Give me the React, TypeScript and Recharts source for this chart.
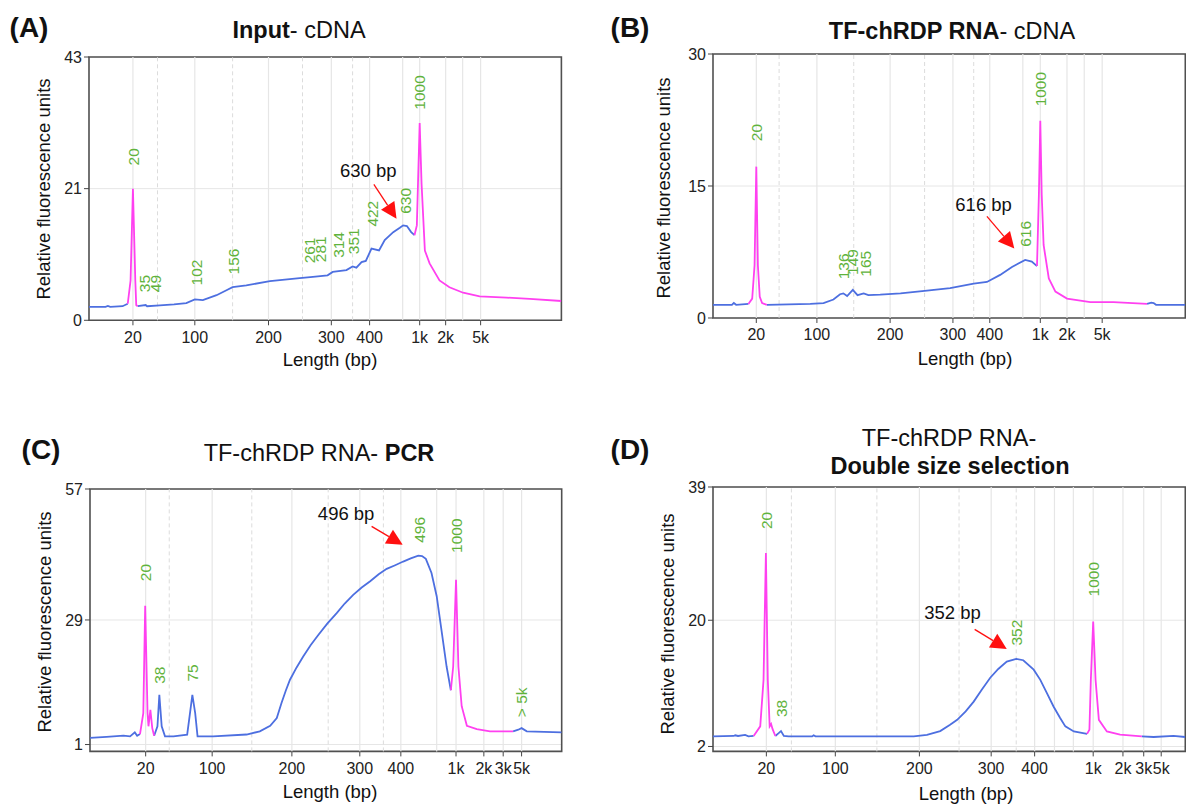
import React from "react";
import { ComposedChart, Line, Scatter, XAxis, YAxis, CartesianGrid, ReferenceLine, ReferenceArea } from "recharts";

const FONT = "'Liberation Sans', Arial, Helvetica, sans-serif";
const BLUE = "#4d6fe0";
const PINK = "#ff40f0";
const GREEN = "#5fb33c";

// x values are migration positions (0-100 across the plot); ticks carry the bp labels
const sizeLabelsAB = ["20", "100", "200", "300", "400", "1k", "2k", "5k"];
const sizeLabelsCD = ["20", "100", "200", "300", "400", "1k", "2k", "3k", "5k"];

// ---- (A) Input- cDNA
const ticksA = [9.3, 22.4, 38.0, 51.3, 59.4, 70.0, 75.5, 82.9];
const solidA = [66.4, 79.1];
const dashedA = [14.5, 30.4, 45.2, 55.8];
const yTicksA = [0, 21.5, 43];
const yLabelsA = ["0", "21", "43"];
const traceA: [number, number][] = [
  [0, 2.2], [3.5, 2.2], [4.0, 2.35], [4.5, 2.2], [7.1, 2.3], [8.2, 2.7], [8.8, 6.5], [9.3, 21.5], [9.8, 6.5],
  [10.0, 2.5], [10.3, 2.3], [12.0, 2.5], [12.3, 2.3], [15.0, 2.45], [18.0, 2.6], [20.6, 2.8], [22.4, 3.4],
  [24.1, 3.3], [27.0, 4.1], [29.1, 4.9], [30.4, 5.4], [33.3, 5.7], [38.3, 6.4], [44.6, 6.9], [47.4, 7.1],
  [50.5, 7.35], [51.6, 7.9], [54.5, 8.2], [55.8, 8.8], [56.6, 8.6], [57.7, 9.5], [58.6, 9.7], [59.8, 11.7],
  [61.4, 11.4], [62.6, 13.1], [64.4, 14.4], [65.8, 15.1], [66.5, 15.5], [67.3, 15.4], [68.2, 14.4],
  [68.9, 13.9], [69.4, 15.5], [70.0, 32.2], [70.4, 22.3], [71.1, 11.4], [72.1, 9.3], [74.2, 6.5],
  [76.3, 5.4], [79.2, 4.5], [82.7, 3.9], [88.4, 3.7], [93.3, 3.5], [100, 3.15],
];
const markerA: [number, number][] = [[8.2, 10.3], [68.9, 100]];
const peaksA = [
  { t: 9.3, v: 25.3, text: "20" }, { t: 11.8, v: 4.6, text: "35" }, { t: 14.1, v: 4.6, text: "49" },
  { t: 22.7, v: 5.7, text: "102" }, { t: 30.6, v: 7.5, text: "156" }, { t: 46.7, v: 9.3, text: "261" },
  { t: 49.0, v: 9.5, text: "281" }, { t: 52.7, v: 10.2, text: "314" }, { t: 55.9, v: 10.8, text: "351" },
  { t: 60.1, v: 15.3, text: "422" }, { t: 67.0, v: 17.4, text: "630" }, { t: 70.0, v: 34.4, text: "1000" },
];
const noteA = { text: "630 bp", t: 59.1, v: 24.5, from: [60.3, 22.2], to: [65.1, 16.6] };

// ---- (B) TF-chRDP RNA- cDNA
const ticksB = [9.17, 22.0, 37.5, 50.8, 58.6, 69.3, 74.95, 82.4];
const solidB = [65.6, 78.6];
const dashedB = [14.0, 29.8, 44.8, 55.2];
const yTicksB = [0, 15, 30];
const yLabelsB = ["0", "15", "30"];
const traceB: [number, number][] = [
  [0, 1.5], [4.0, 1.5], [4.4, 1.7], [4.9, 1.5], [7.5, 1.6], [8.3, 2.2], [8.8, 6.0], [9.17, 17.2], [9.5, 6.0],
  [9.9, 2.4], [10.4, 1.7], [11.4, 1.5], [20.6, 1.6], [23.4, 1.7], [25.5, 2.1], [26.9, 2.7], [27.6, 2.8],
  [28.4, 2.5], [29.6, 3.2], [30.6, 2.6], [31.9, 2.8], [32.9, 2.6], [35.4, 2.65], [39.7, 2.8], [45.3, 3.1],
  [50.2, 3.4], [55.2, 3.9], [58.0, 4.1], [60.8, 4.9], [63.3, 5.8], [66.1, 6.6], [67.5, 6.4], [68.6, 5.9],
  [69.0, 14.0], [69.3, 22.4], [69.6, 14.0], [70.0, 8.3], [71.1, 4.5], [72.5, 3.0], [74.95, 2.2],
  [79.9, 1.8], [84.8, 1.8], [91.9, 1.6], [92.8, 1.75], [93.3, 1.7], [93.8, 1.5], [100, 1.5],
];
const markerB: [number, number][] = [[7.5, 11.4], [68.6, 91.9]];
const peaksB = [
  { t: 9.17, v: 20.1, text: "20" }, { t: 27.6, v: 4.4, text: "136" }, { t: 29.6, v: 4.9, text: "149" },
  { t: 32.2, v: 4.7, text: "165" }, { t: 66.1, v: 8.1, text: "616" }, { t: 69.3, v: 24.05, text: "1000" },
];
const noteB = { text: "616 bp", t: 57.3, v: 12.95, from: [58.0, 11.55], to: [63.8, 7.9] };

// ---- (C) TF-chRDP RNA- PCR
const ticksC = [11.8, 25.9, 42.8, 57.2, 65.9, 77.6, 83.5, 87.6, 91.5];
const solidC = [73.5];
const dashedC = [16.8, 34.3, 50.5, 62.2];
const yTicksC = [1, 28.3, 57];
const yLabelsC = ["1", "29", "57"];
const traceC: [number, number][] = [
  [0, 2.44], [3.5, 2.66], [7.1, 2.94], [8.5, 2.8], [9.5, 3.66], [10.0, 2.94], [10.6, 3.3], [11.3, 7.9],
  [11.7, 31.4], [12.2, 7.9], [12.4, 5.0], [12.8, 8.6], [13.2, 4.6], [13.6, 2.94], [14.3, 5.0], [14.7, 11.9],
  [15.2, 5.0], [15.9, 2.8], [17.7, 2.8], [20.6, 3.16], [21.2, 7.9], [21.7, 11.9], [22.3, 7.9], [22.8, 2.8],
  [26.1, 2.8], [33.2, 3.2], [36.0, 3.9], [38.2, 5.1], [39.6, 6.8], [40.6, 10.1], [41.5, 12.8], [42.4, 15.2],
  [43.8, 17.9], [45.2, 20.3], [46.8, 22.8], [48.4, 25.0], [50.3, 27.5], [52.3, 29.8], [54.0, 31.9],
  [55.8, 33.8], [57.6, 35.4], [59.4, 36.8], [61.2, 38.3], [62.9, 39.5], [64.7, 40.3], [66.4, 41.1],
  [68.0, 41.8], [69.6, 42.4], [70.4, 42.3], [71.2, 41.7], [72.4, 38.6], [73.5, 33.5], [74.5, 26.2],
  [75.6, 18.1], [76.5, 12.9], [77.0, 18.1], [77.6, 37.1], [78.1, 18.1], [78.8, 9.4], [79.9, 5.1],
  [82.0, 4.4], [84.8, 3.9], [89.7, 3.9], [90.8, 4.25], [91.5, 4.6], [92.6, 3.9], [100, 3.66],
];
const markerC: [number, number][] = [[10.6, 13.6], [76.5, 89.7]];
const peaksC = [
  { t: 11.8, v: 36.8, text: "20" }, { t: 14.8, v: 14.3, text: "38" }, { t: 21.8, v: 14.8, text: "75" },
  { t: 69.8, v: 45.2, text: "496" }, { t: 77.7, v: 43.0, text: "1000" }, { t: 91.5, v: 7.0, text: "> 5k" },
];
const noteC = { text: "496 bp", t: 54.3, v: 51.7, from: [59.7, 48.8], to: [66.3, 44.8] };

// ---- (D) TF-chRDP RNA- Double size selection
const ticksD = [11.3, 25.9, 43.7, 58.9, 68.1, 80.5, 86.8, 91.2, 94.9];
const solidD = [72.3, 76.3];
const dashedD = [16.6, 34.7, 52.1, 64.2];
const yTicksD = [2, 20, 39];
const yLabelsD = ["2", "20", "39"];
const traceD: [number, number][] = [
  [0, 3.44], [4.4, 3.5], [4.7, 3.6], [5.3, 3.5], [6.8, 3.64], [7.5, 3.44], [8.6, 3.5], [10.0, 4.87],
  [10.7, 11.5], [11.2, 29.6], [11.6, 11.5], [12.0, 4.87], [12.3, 5.2], [12.6, 4.5], [13.2, 3.5], [13.9, 3.9],
  [14.4, 4.2], [15.0, 3.5], [16.0, 3.44], [21.0, 3.44], [21.3, 3.6], [21.7, 3.44], [42.5, 3.44], [45.3, 3.67],
  [48.1, 4.2], [50.2, 5.1], [51.7, 5.8], [53.5, 7.0], [55.2, 8.4], [56.9, 10.1], [58.7, 11.8], [60.4, 13.05],
  [62.2, 14.1], [64.2, 14.5], [65.7, 14.3], [67.9, 12.95], [69.3, 11.5], [70.7, 9.6], [72.1, 7.7],
  [73.5, 6.06], [74.6, 4.87], [76.4, 4.15], [79.2, 3.8], [79.7, 4.4], [80.0, 11.5], [80.5, 19.8],
  [81.0, 11.5], [81.7, 5.8], [83.4, 4.15], [86.2, 3.7], [90.8, 3.44], [93.3, 3.35], [97.5, 3.5], [100, 3.35],
];
const markerD: [number, number][] = [[8.6, 13.2], [79.2, 90.8]];
const peaksD = [
  { t: 11.3, v: 33.0, text: "20" }, { t: 14.4, v: 6.2, text: "38" },
  { t: 64.2, v: 16.4, text: "352" }, { t: 80.5, v: 23.4, text: "1000" },
];
const noteD = { text: "352 bp", t: 50.7, v: 21.1, from: [55.4, 18.7], to: [62.2, 15.9] };

function buildRows(trace: [number, number][], marker: [number, number][]) {
  return trace.map(([t, v]) => {
    const onEdge = marker.some(([a, b]) => t >= a && t <= b);
    const inside = marker.some(([a, b]) => t > a && t < b);
    return { t, blue: inside ? null : v, pink: onEdge ? v : null };
  });
}

const PeakLabel = (p: any) => (
  <text x={p.cx} y={p.cy} dy="0.36em" transform={`rotate(-90 ${p.cx} ${p.cy})`}
    fontSize={15.5} fill={GREEN} fontFamily={FONT}>{p.payload.text}</text>
);

const NoteText = (p: any) => (
  <text x={p.cx} y={p.cy} dy="0.36em" textAnchor="middle" fontSize={18.5} fill="#111" fontFamily={FONT}>
    {p.payload.text}
  </text>
);

const Arrow = (p: any) => {
  const { x1, y1, x2, y2 } = p;
  const dx = x2 - x1, dy = y2 - y1;
  const len = Math.hypot(dx, dy) || 1;
  const ux = dx / len, uy = dy / len;
  const hl = 16, hw = 8;
  const bx = x2 - ux * hl, by = y2 - uy * hl;
  return (
    <g>
      <line x1={x1} y1={y1} x2={bx} y2={by} stroke="#ff1010" strokeWidth={1.3} />
      <polygon points={`${x2},${y2} ${bx - uy * hw},${by + ux * hw} ${bx + uy * hw},${by - ux * hw}`} fill="#ff1010" />
    </g>
  );
};

const PAD_L = 90, PAD_T = 60, PAD_R = 20, PAD_B = 45, YAXIS_W = 40, XAXIS_H = 35;

interface PanelProps {
  box: { x: number; y: number; w: number; h: number };
  trace: [number, number][];
  marker: [number, number][];
  xTicks: number[];
  xLabels: string[];
  yTicks: number[];
  yLabels: string[];
  yDomain: [number, number];
  solid: number[];
  dashed: number[];
  peaks: { t: number; v: number; text: string }[];
  note: { text: string; t: number; v: number; from: number[]; to: number[] };
}

function Panel({ box, trace, marker, xTicks, xLabels, yTicks, yLabels, yDomain, solid, dashed, peaks, note }: PanelProps) {
  const rows = buildRows(trace, marker);
  const width = box.w + PAD_L + PAD_R;
  const height = box.h + PAD_T + PAD_B;
  const tickStyle = { fontSize: 16, fill: "#222", fontFamily: FONT };
  return (
    <div style={{ position: "absolute", left: box.x - PAD_L, top: box.y - PAD_T }}>
      <ComposedChart width={width} height={height} data={rows}
        margin={{ top: PAD_T, right: PAD_R, bottom: PAD_B - XAXIS_H, left: PAD_L - YAXIS_W }}>
        <CartesianGrid vertical={false} stroke="#e6e6e6" />
        {[...xTicks, ...solid].map((g) => (
          <ReferenceLine key={"s" + g} x={g} stroke="#e6e6e6" strokeWidth={1.2} />
        ))}
        {dashed.map((g) => (
          <ReferenceLine key={"d" + g} x={g} stroke="#dcdcdc" strokeDasharray="4 3" />
        ))}
        <XAxis dataKey="t" type="number" domain={[0, 100]} ticks={xTicks} interval={0} allowDataOverflow
          tickFormatter={(v: number) => xLabels[xTicks.indexOf(v)]} axisLine={false} stroke="#444"
          tickSize={5} tickMargin={6} tick={tickStyle} height={XAXIS_H} />
        <YAxis type="number" domain={yDomain} ticks={yTicks} interval={0} allowDataOverflow
          tickFormatter={(v: number) => yLabels[yTicks.indexOf(v)]} axisLine={false} stroke="#444"
          tickSize={5} tickMargin={2} tick={tickStyle} width={YAXIS_W} />
        <Line dataKey="blue" stroke={BLUE} strokeWidth={1.8} dot={false} activeDot={false}
          connectNulls={false} isAnimationActive={false} type="linear" />
        <Line dataKey="pink" stroke={PINK} strokeWidth={1.8} dot={false} activeDot={false}
          connectNulls={false} isAnimationActive={false} type="linear" />
        <Scatter data={peaks} dataKey="v" shape={PeakLabel} isAnimationActive={false} />
        <Scatter data={[note]} dataKey="v" shape={NoteText} isAnimationActive={false} />
        <ReferenceLine segment={[{ x: note.from[0], y: note.from[1] }, { x: note.to[0], y: note.to[1] }]}
          shape={Arrow} ifOverflow="visible" />
        <ReferenceArea x1={0} x2={100} y1={yDomain[0]} y2={yDomain[1]} fill="none" fillOpacity={0}
          stroke="#505050" strokeWidth={1.6} ifOverflow="visible" />
      </ComposedChart>
    </div>
  );
}

const yTitle = "Relative fluorescence units";

export default function App() {
  return (
    <div style={{ position: "absolute", left: 0, top: 0, width: 1186, height: 810, background: "#fff", overflow: "hidden", fontFamily: FONT }}>
      <Panel box={{ x: 89.3, y: 56.7, w: 472.4, h: 263.3 }} trace={traceA} marker={markerA} xTicks={ticksA}
        xLabels={sizeLabelsAB} yTicks={yTicksA} yLabels={yLabelsA} yDomain={[0, 43]} solid={solidA}
        dashed={dashedA} peaks={peaksA} note={noteA} />
      <Panel box={{ x: 712.7, y: 54.3, w: 472.3, h: 264 }} trace={traceB} marker={markerB} xTicks={ticksB}
        xLabels={sizeLabelsAB} yTicks={yTicksB} yLabels={yLabelsB} yDomain={[0, 30]} solid={solidB}
        dashed={dashedB} peaks={peaksB} note={noteB} />
      <Panel box={{ x: 90, y: 489.3, w: 471.7, h: 262.4 }} trace={traceC} marker={markerC} xTicks={ticksC}
        xLabels={sizeLabelsCD} yTicks={yTicksC} yLabels={yLabelsC} yDomain={[-0.5, 57]} solid={solidC}
        dashed={dashedC} peaks={peaksC} note={noteC} />
      <Panel box={{ x: 712.7, y: 487.3, w: 472.3, h: 264.4 }} trace={traceD} marker={markerD} xTicks={ticksD}
        xLabels={sizeLabelsCD} yTicks={yTicksD} yLabels={yLabelsD} yDomain={[1.3, 39]} solid={solidD}
        dashed={dashedD} peaks={peaksD} note={noteD} />
      <svg width={1186} height={810} style={{ position: "absolute", left: 0, top: 0, pointerEvents: "none" }}
        fontFamily={FONT} fill="#111">
        <text x={29} y={37} textAnchor="middle" fontSize={28} fontWeight="bold">(A)</text>
        <text x={630} y={37} textAnchor="middle" fontSize={28} fontWeight="bold">(B)</text>
        <text x={41} y={459} textAnchor="middle" fontSize={28} fontWeight="bold">(C)</text>
        <text x={630} y={459} textAnchor="middle" fontSize={28} fontWeight="bold">(D)</text>

        <text x={299} y={38} textAnchor="middle" fontSize={23.5}>
          <tspan fontWeight="bold">Input</tspan><tspan>- cDNA</tspan>
        </text>
        <text x={952} y={39} textAnchor="middle" fontSize={23.5}>
          <tspan fontWeight="bold">TF-chRDP RNA</tspan><tspan>- cDNA</tspan>
        </text>
        <text x={319} y={461} textAnchor="middle" fontSize={23.5}>
          <tspan>{"TF-chRDP RNA- "}</tspan><tspan fontWeight="bold">PCR</tspan>
        </text>
        <text x={949} y={446} textAnchor="middle" fontSize={23.5}>TF-chRDP RNA-</text>
        <text x={950} y={474} textAnchor="middle" fontSize={23.5} fontWeight="bold">Double size selection</text>

        <text x={330} y={366} textAnchor="middle" fontSize={18.5}>Length (bp)</text>
        <text x={965} y={365} textAnchor="middle" fontSize={18.5}>Length (bp)</text>
        <text x={330} y={798} textAnchor="middle" fontSize={18.5}>Length (bp)</text>
        <text x={966} y={800} textAnchor="middle" fontSize={18.5}>Length (bp)</text>

        <text x={43} y={189} transform="rotate(-90 43 189)" textAnchor="middle" dominantBaseline="central" fontSize={18.5}>{yTitle}</text>
        <text x={663} y={188} transform="rotate(-90 663 188)" textAnchor="middle" dominantBaseline="central" fontSize={18.5}>{yTitle}</text>
        <text x={44} y={622} transform="rotate(-90 44 622)" textAnchor="middle" dominantBaseline="central" fontSize={18.5}>{yTitle}</text>
        <text x={667} y={624} transform="rotate(-90 667 624)" textAnchor="middle" dominantBaseline="central" fontSize={18.5}>{yTitle}</text>
      </svg>
    </div>
  );
}
